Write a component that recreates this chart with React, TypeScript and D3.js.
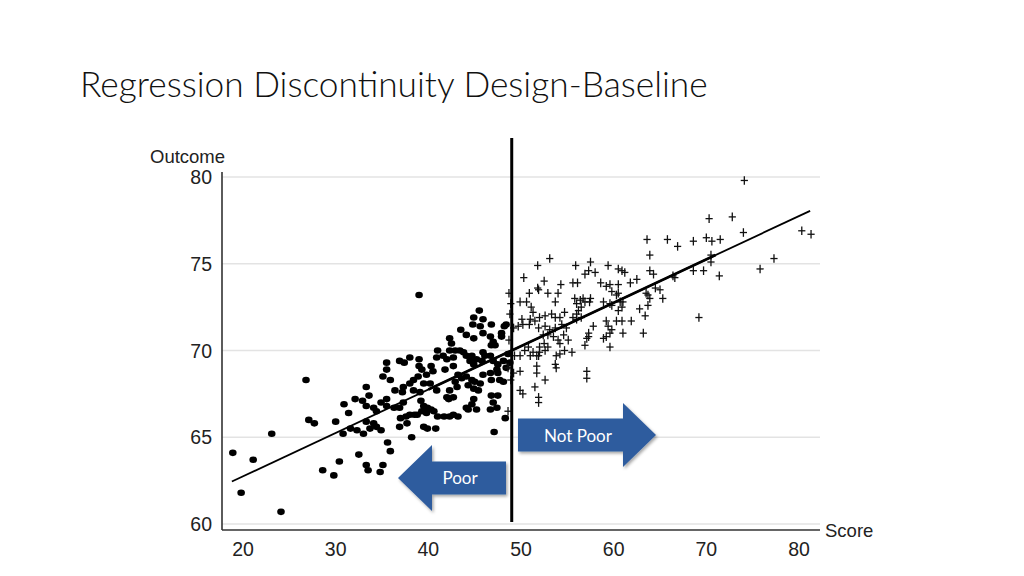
import React from "react";
import * as d3 from "d3";

// ---------- DATA ----------
const titleText = "Regression Discontinuity Design-Baseline";
const xTicks = [20, 30, 40, 50, 60, 70, 80];
const yTicks = [60, 65, 70, 75, 80];
const cutoffScore = 49;
const fitXRange = [18.8, 81.2];
const fitThickRange = [40, 71];
const fitAt50 = 70.25;
const fitSlope = 0.25;
const arrowLabels = ["Not Poor", "Poor"];

// Poor (score below cutoff): dots
const poorPoints: [number, number][] = [
  [26.8, 68.3], [18.9, 64.1], [21.1, 63.7], [23.1, 65.2], [19.8, 61.8], [24.1, 60.7], [27.1, 66.0],
  [27.7, 65.8], [28.6, 63.1], [29.8, 62.8], [30.0, 65.9], [30.4, 63.6], [30.9, 66.9], [30.8, 65.2],
  [31.4, 66.4], [32.1, 67.2], [31.6, 65.5], [32.3, 65.4], [32.5, 64.0], [33.5, 63.1], [34.8, 63.0],
  [39.0, 73.2], [41.0, 70.0], [36.9, 69.4], [37.4, 69.3], [38.0, 69.6], [39.0, 69.5], [39.0, 69.1],
  [39.3, 68.9], [40.3, 69.1], [40.5, 68.8], [39.8, 68.6], [35.5, 69.3], [35.5, 68.9], [35.9, 68.3],
  [35.1, 68.5], [33.3, 67.9], [33.6, 67.4], [32.9, 67.1], [37.3, 67.9], [37.2, 67.6], [38.0, 68.1],
  [38.4, 68.3], [38.9, 68.5], [39.5, 68.1], [40.2, 68.1], [40.9, 67.7], [38.4, 67.7], [39.1, 67.6],
  [36.4, 67.7], [35.5, 67.2], [34.9, 67.0], [34.1, 66.7], [33.3, 66.8], [34.4, 66.5], [35.5, 66.8],
  [36.3, 66.7], [36.9, 66.7], [37.3, 67.0], [39.2, 67.1], [39.5, 66.8], [39.9, 66.7], [40.3, 66.6],
  [40.6, 66.5], [39.8, 66.4], [39.3, 66.5], [38.8, 66.3], [41.0, 66.2], [37.0, 66.1], [37.6, 66.2],
  [38.0, 66.3], [38.5, 66.3], [36.9, 65.6], [37.7, 65.8], [39.5, 65.6], [39.9, 65.5], [40.8, 65.5],
  [38.2, 65.0], [33.3, 65.9], [34.1, 65.8], [33.7, 65.5], [34.4, 65.6], [34.9, 65.4], [33.0, 65.2],
  [35.6, 64.7], [35.9, 64.2], [33.3, 63.4], [35.1, 63.4], [40.9, 69.6],
  [45.5, 72.3], [44.9, 71.9], [45.9, 71.8], [44.8, 71.5], [45.6, 71.4], [46.8, 71.5], [43.5, 71.2],
  [44.1, 70.9], [44.9, 70.7], [45.9, 71.0], [46.7, 70.8], [47.0, 70.5], [46.8, 70.3], [47.2, 70.3],
  [47.9, 71.0], [48.2, 71.4], [48.4, 71.5], [47.9, 70.8], [42.3, 70.7], [42.5, 70.4], [42.3, 70.0],
  [42.9, 70.0], [43.4, 70.0], [43.8, 69.9], [41.6, 69.7], [42.0, 69.5], [41.8, 68.9], [42.7, 69.6],
  [42.7, 69.1], [44.1, 69.7], [44.5, 69.4], [44.9, 69.2], [44.7, 69.7], [45.2, 69.5], [45.8, 69.4],
  [46.1, 69.7], [45.9, 69.9], [46.7, 69.7], [47.0, 69.4], [47.5, 69.2], [48.1, 69.4], [48.6, 69.8],
  [48.4, 69.0], [48.8, 69.3], [43.2, 68.6], [43.6, 68.4], [44.1, 68.5], [44.7, 68.3], [42.9, 68.2],
  [43.1, 67.9], [42.3, 67.7], [42.7, 67.3], [44.3, 68.0], [44.9, 67.8], [45.4, 67.7], [45.6, 68.1],
  [45.0, 68.2], [45.9, 68.6], [46.7, 68.7], [46.8, 68.3], [47.5, 68.7], [47.7, 68.3], [48.1, 68.2],
  [47.4, 68.9], [42.0, 67.3], [42.2, 67.2], [44.9, 67.2], [44.7, 66.9], [44.1, 66.7], [44.3, 66.6],
  [46.8, 67.4], [47.5, 67.4], [47.0, 67.0], [47.4, 66.7], [46.7, 66.6], [41.7, 66.2], [42.3, 66.2],
  [42.7, 66.3], [43.2, 66.2], [45.2, 66.6], [48.3, 66.1], [47.1, 65.3],
];

// Not poor (score above cutoff): plus signs
const notPoorPoints: [number, number][] = [
  [53.1, 75.3], [51.8, 74.9], [55.9, 74.9], [50.3, 74.2], [52.5, 74.0], [54.3, 73.8], [55.6, 73.9],
  [56.1, 73.9], [50.9, 73.3], [51.9, 73.5], [51.8, 73.6], [52.9, 73.3], [54.0, 73.3], [48.7, 73.3],
  [49.9, 72.8], [50.6, 72.8], [51.1, 72.5], [51.3, 72.2], [53.7, 72.8], [55.8, 73.0], [56.0, 72.7],
  [48.9, 72.7], [48.8, 72.1], [52.6, 72.0], [53.3, 72.1], [53.7, 71.9], [54.2, 71.9], [54.7, 72.2],
  [50.1, 71.8], [51.0, 71.8], [51.5, 71.7], [52.0, 71.9], [50.2, 71.5], [50.9, 71.5], [49.7, 71.4],
  [49.2, 71.3], [51.9, 71.3], [52.6, 71.4], [53.1, 71.2], [53.7, 71.3], [54.4, 71.5], [54.9, 71.3],
  [55.6, 71.9], [56.0, 72.1], [52.4, 70.9], [52.9, 70.9], [53.5, 70.8], [54.0, 70.6], [54.6, 70.9],
  [55.1, 70.6], [54.2, 70.4], [52.5, 70.4], [52.9, 70.2], [52.0, 70.2], [52.6, 70.0], [50.4, 70.0],
  [50.8, 70.2], [51.3, 69.9], [51.0, 69.7], [49.9, 69.7], [49.3, 69.7], [51.7, 69.7], [51.9, 69.7],
  [52.0, 69.9], [53.8, 69.7], [54.2, 69.8], [54.7, 70.0], [55.5, 69.9], [53.7, 69.2], [53.8, 69.0],
  [49.9, 68.8], [51.7, 69.1], [51.7, 68.7], [52.6, 68.3], [49.9, 67.7], [50.2, 67.5], [51.5, 67.9],
  [51.9, 67.3], [51.9, 67.0], [48.7, 70.6], [48.6, 69.0], [48.9, 68.3], [48.6, 66.5], [49.2, 68.7],
  [57.5, 75.1], [59.4, 74.9], [60.5, 74.7], [60.9, 74.6], [61.2, 74.5], [57.3, 74.6], [58.0, 74.5],
  [56.9, 74.4], [58.6, 73.9], [59.2, 73.7], [59.6, 73.8], [60.5, 73.8], [61.8, 73.9], [62.5, 74.1],
  [59.8, 73.4], [60.3, 73.2], [60.5, 73.3], [56.4, 72.9], [56.7, 73.0], [56.9, 72.8], [56.5, 72.5],
  [56.2, 72.3], [57.5, 73.0], [57.4, 72.8], [58.9, 72.8], [59.6, 72.7], [59.8, 72.6], [60.7, 72.8],
  [60.9, 72.5], [60.5, 72.3], [61.0, 72.8], [62.8, 72.4], [56.5, 71.9], [56.0, 71.8], [59.2, 71.7],
  [59.4, 71.4], [59.8, 71.2], [60.3, 71.7], [60.9, 71.7], [61.9, 71.7], [57.8, 71.4], [57.3, 71.0],
  [57.1, 70.7], [56.9, 70.3], [57.3, 70.8], [58.9, 70.7], [59.2, 70.8], [59.6, 71.0], [61.0, 71.0],
  [63.2, 71.0], [59.6, 70.2], [57.1, 68.8], [57.1, 68.4],
  [74.1, 79.8], [70.3, 77.6], [72.8, 77.7], [74.0, 76.8], [80.3, 76.9], [81.3, 76.7], [63.6, 76.4],
  [65.8, 76.4], [66.9, 76.0], [68.6, 76.3], [70.0, 76.5], [70.6, 76.3], [71.5, 76.4], [63.9, 75.5],
  [70.5, 75.5], [70.5, 75.1], [77.3, 75.3], [75.8, 74.7], [63.9, 74.6], [64.3, 74.4], [66.4, 74.3],
  [66.6, 74.2], [68.6, 74.6], [69.7, 74.6], [71.4, 74.3], [63.5, 73.3], [63.7, 73.2], [64.5, 73.6],
  [65.0, 73.5], [65.3, 73.0], [63.9, 73.0], [63.7, 72.6], [63.4, 72.0], [69.2, 71.9],
];

// ---------- LAYOUT ----------
const W = 1024;
const H = 576;
const plotLeft = 222;
const plotRight = 820;
const plotTop = 172;
const axisY = 530;

const x = d3.scaleLinear().domain([20, 80]).range([243, 799]);
const y = d3.scaleLinear().domain([60, 80]).range([524, 177]);
const fit = (s: number) => fitAt50 + fitSlope * (s - 50);

const lineGen = d3
  .line<number>()
  .x((d) => x(d))
  .y((d) => y(fit(d)));

const ARROW = "#2F5C9E";
const axisFont = "'Liberation Sans', Arial, sans-serif";
const labelFont = "Lato, 'Open Sans', sans-serif";

function rightArrow(x0: number, x1: number, tip: number, cy: number, bh: number, hh: number) {
  return `M${x0},${cy - bh / 2} L${x1},${cy - bh / 2} L${x1},${cy - hh / 2} L${tip},${cy} L${x1},${cy + hh / 2} L${x1},${cy + bh / 2} L${x0},${cy + bh / 2} Z`;
}
function leftArrow(x0: number, x1: number, tip: number, cy: number, bh: number, hh: number) {
  return `M${x1},${cy - bh / 2} L${x0},${cy - bh / 2} L${x0},${cy - hh / 2} L${tip},${cy} L${x0},${cy + hh / 2} L${x0},${cy + bh / 2} L${x1},${cy + bh / 2} Z`;
}

export default function App() {
  return (
    <svg
      width={W}
      height={H}
      viewBox={`0 0 ${W} ${H}`}
      style={{ position: "absolute", left: 0, top: 0, background: "#fff" }}
    >
      <defs>
        <filter id="shadow" x="-20%" y="-20%" width="140%" height="150%">
          <feDropShadow dx="1.5" dy="2" stdDeviation="1.5" floodColor="#000" floodOpacity="0.35" />
        </filter>
      </defs>
      <rect x={0} y={0} width={W} height={H} fill="#fff" />

      {/* Title */}
      <text
        x={80}
        y={97}
        fontFamily={labelFont}
        fontWeight={300}
        fontSize={35.3}
        fill="#111"
      >
        {titleText}
      </text>

      {/* gridlines */}
      {yTicks.map((t) => (
        <line
          key={`g${t}`}
          x1={plotLeft}
          x2={plotRight}
          y1={y(t)}
          y2={y(t)}
          stroke="#e3e3e3"
          strokeWidth={1.5}
        />
      ))}

      {/* axes */}
      <line x1={plotLeft} x2={plotLeft} y1={plotTop} y2={axisY} stroke="#333" strokeWidth={1.6} />
      <line x1={plotLeft} x2={plotRight} y1={axisY} y2={axisY} stroke="#333" strokeWidth={1.6} />

      {yTicks.map((t) => (
        <text
          key={`yt${t}`}
          x={212}
          y={y(t)}
          textAnchor="end"
          dominantBaseline="central"
          fontFamily={axisFont}
          fontSize={19.5}
          fill="#222"
        >
          {t}
        </text>
      ))}
      {xTicks.map((t) => (
        <text
          key={`xt${t}`}
          x={x(t)}
          y={549}
          textAnchor="middle"
          dominantBaseline="central"
          fontFamily={axisFont}
          fontSize={19.5}
          fill="#222"
        >
          {t}
        </text>
      ))}
      <text x={150} y={156} dominantBaseline="central" fontFamily={axisFont} fontSize={18.5} fill="#222">
        Outcome
      </text>
      <text x={825} y={530} dominantBaseline="central" fontFamily={axisFont} fontSize={18.5} fill="#222">
        Score
      </text>

      {/* points */}
      {poorPoints.map((p, i) => (
        <ellipse key={`p${i}`} cx={x(p[0])} cy={y(p[1])} rx={3.8} ry={3.3} fill="#000" />
      ))}
      {notPoorPoints.map((p, i) => (
        <g key={`n${i}`} stroke="#111" strokeWidth={1.3}>
          <line x1={x(p[0]) - 3.6} x2={x(p[0]) + 3.6} y1={y(p[1])} y2={y(p[1])} />
          <line x1={x(p[0])} x2={x(p[0])} y1={y(p[1]) - 4.3} y2={y(p[1]) + 4.3} />
        </g>
      ))}

      {/* regression line */}
      <path d={lineGen(fitXRange) || ""} fill="none" stroke="#000" strokeWidth={1.8} />
      <path d={lineGen(fitThickRange) || ""} fill="none" stroke="#000" strokeWidth={2.8} />

      {/* cutoff */}
      <line x1={x(cutoffScore)} x2={x(cutoffScore)} y1={138} y2={522} stroke="#000" strokeWidth={3} />

      {/* arrows */}
      <g filter="url(#shadow)">
        <path d={rightArrow(518, 623, 656, 435, 33, 64)} fill={ARROW} />
        <path d={leftArrow(432, 506, 398, 478, 33, 66)} fill={ARROW} />
      </g>
      <text
        x={578}
        y={435}
        textAnchor="middle"
        dominantBaseline="central"
        fontFamily={labelFont}
        fontSize={17}
        fill="#fff"
      >
        {arrowLabels[0]}
      </text>
      <text
        x={460}
        y={477}
        textAnchor="middle"
        dominantBaseline="central"
        fontFamily={labelFont}
        fontSize={17}
        fill="#fff"
      >
        {arrowLabels[1]}
      </text>
    </svg>
  );
}
